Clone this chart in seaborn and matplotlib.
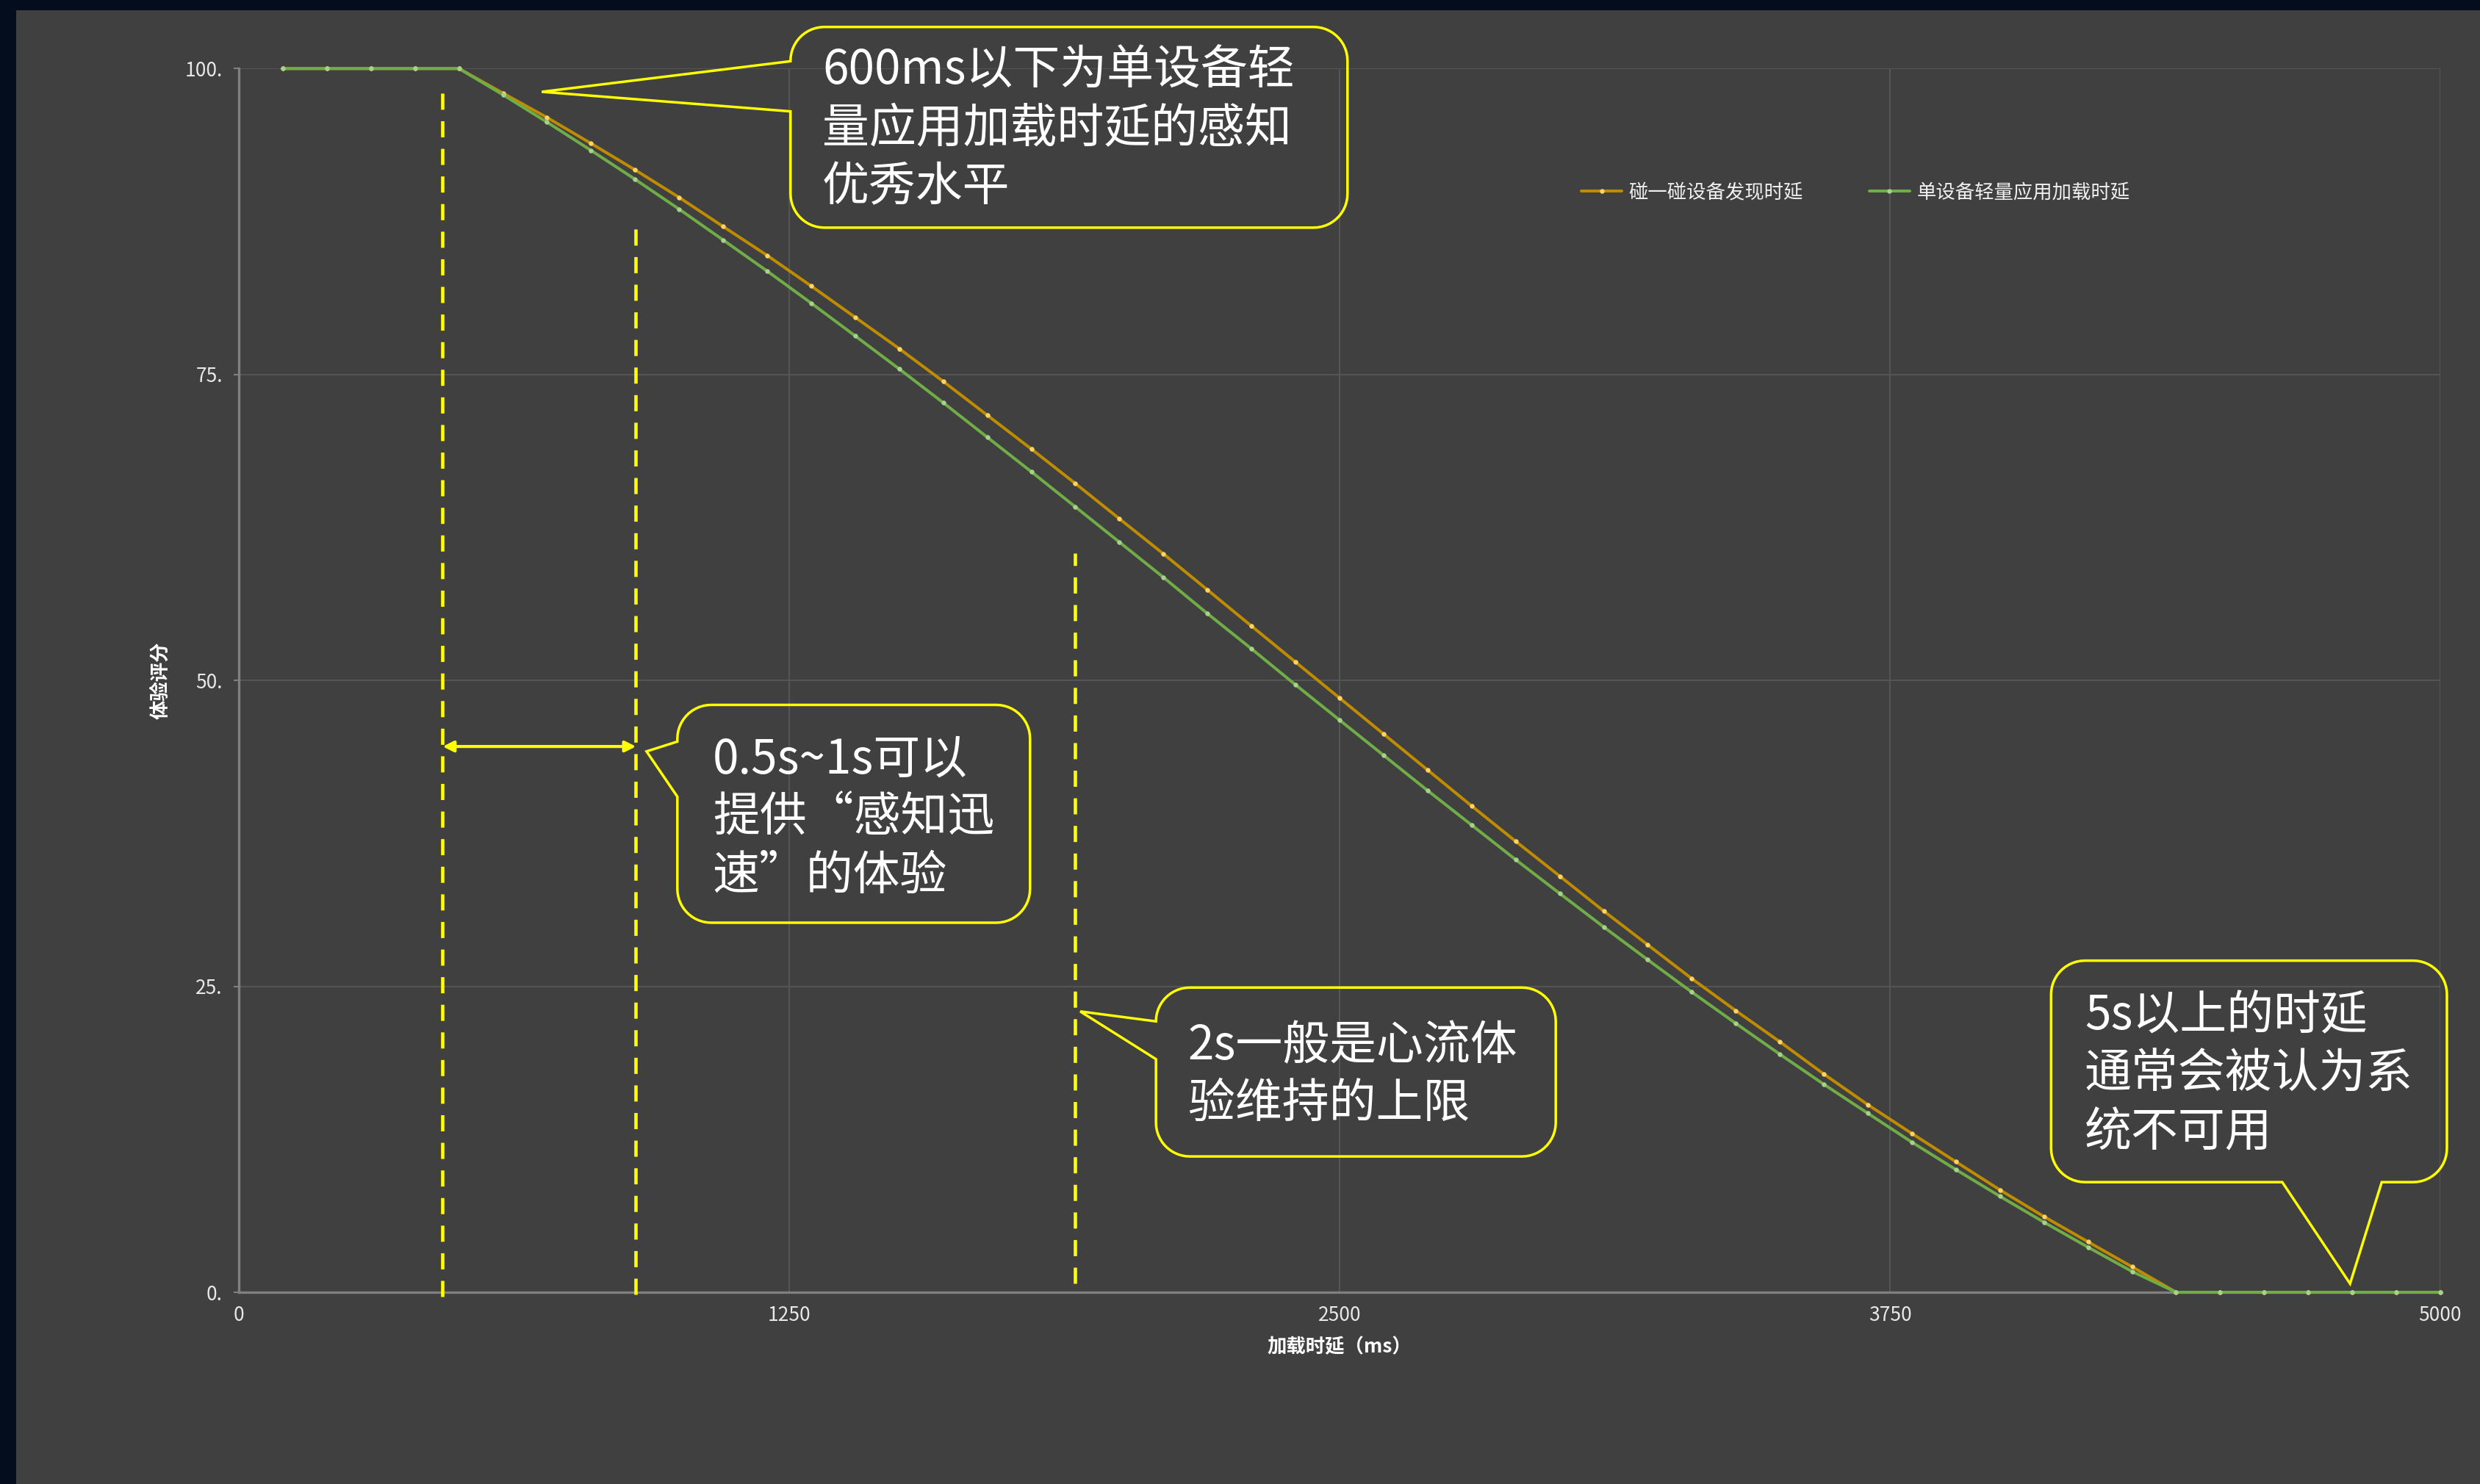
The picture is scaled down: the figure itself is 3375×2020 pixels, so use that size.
import matplotlib
matplotlib.use("Agg")
import matplotlib.pyplot as plt
import numpy as np
import pandas as pd
import seaborn as sns
from matplotlib.patches import Polygon, Rectangle

# ---- data (score vs. load latency, one point every 100 ms)
LATENCY_MS = [
    100, 200, 300, 400, 500, 600, 700, 800, 900, 1000,
    1100, 1200, 1300, 1400, 1500, 1600, 1700, 1800, 1900, 2000,
    2100, 2200, 2300, 2400, 2500, 2600, 2700, 2800, 2900, 3000,
    3100, 3200, 3300, 3400, 3500, 3600, 3700, 3800, 3900, 4000,
    4100, 4200, 4300, 4400, 4500, 4600, 4700, 4800, 4900, 5000,
]
TOUCH_DISCOVERY = [
    100, 100, 100, 100, 100, 97.99, 96.0, 93.88, 91.72, 89.47,
    87.09, 84.73, 82.23, 79.67, 77.11, 74.43, 71.67, 68.91, 66.09, 63.21,
    60.34, 57.40, 54.44, 51.50, 48.56, 45.62, 42.68, 39.74, 36.85, 34.01,
    31.15, 28.39, 25.63, 23.01, 20.47, 17.83, 15.32, 12.97, 10.66, 8.36,
    6.18, 4.12, 2.08, 0, 0, 0, 0, 0, 0, 0,
]
APP_LOADING = [
    100, 100, 100, 100, 100, 97.86, 95.62, 93.31, 90.95, 88.51,
    85.99, 83.45, 80.83, 78.15, 75.45, 72.69, 69.87, 67.05, 64.18, 61.30,
    58.42, 55.46, 52.58, 49.64, 46.76, 43.88, 41.00, 38.18, 35.35, 32.59,
    29.85, 27.17, 24.53, 21.97, 19.45, 16.99, 14.62, 12.26, 10.02, 7.84,
    5.72, 3.68, 1.70, 0, 0, 0, 0, 0, 0, 0,
]
SERIES_NAMES = ["碰一碰设备发现时延", "单设备轻量应用加载时延"]

X_TICKS = [0, 1250, 2500, 3750, 5000]
Y_TICKS = [0, 25, 50, 75, 100]
X_LABEL = "加载时延（ms）"
Y_LABEL = "体验评分"

# dashed guide lines (ms) and their vertical extent (score)
GUIDE_X = [463, 902, 1900]
GUIDE_TOP = [98.6, 87.8, 60.4]
GUIDE_BOTTOM = [-0.35, -0.2, 0.7]
SPAN_Y = 44.6

CALLOUTS = [
    dict(text="600ms以下为单设备轻\n量应用加载时延的感知\n优秀水平",
         box=(1253, 2518, 87.0, 103.4), side="left", base=(96.5, 100.6),
         tip=(688, 98.1), at=(1325, 95.05)),
    dict(text="0.5s~1s可以\n提供“感知迅\n速”的体验",
         box=(996, 1797, 30.2, 48.0), side="left", base=(40.5, 45.0),
         tip=(926, 44.2), at=(1076, 38.75)),
    dict(text="2s一般是心流体\n验维持的上限",
         box=(2083, 2991, 11.1, 24.9), side="left", base=(19.05, 22.6),
         tip=(1911, 22.95), at=(2156, 17.75)),
    dict(text="5s以上的时延\n通常会被认为系\n统不可用",
         box=(4116, 5015, 9.0, 27.1), side="bottom", base=(4641, 4867),
         tip=(4795, 0.7), at=(4192, 17.8)),
]

LINE_COLORS = ["#bf8c00", "#70ad47"]
DOT_COLORS = ["#ffd466", "#a9d18e"]
YELLOW = "#ffff00"
PANEL = "#404040"
NAVY = "#030d1d"
GRID = "#555555"
SPINE = "#808080"

sns.set_style("dark", {"axes.facecolor": PANEL, "figure.facecolor": NAVY})
plt.rcParams["font.family"] = ["Noto Sans CJK SC", "DejaVu Sans"]


def draw_callout(ax, spec, radius_px=46):
    """Rounded speech bubble with a pointed tail, drawn as one outline."""
    x0, x1, y0, y1 = spec["box"]
    o = ax.transData.transform((0, 0))
    sx = ax.transData.transform((1, 0))[0] - o[0]
    sy = ax.transData.transform((0, 1))[1] - o[1]
    rx, ry = radius_px / sx, radius_px / sy

    def arc(cx, cy, a0, a1, n=14):
        t = np.radians(np.linspace(a0, a1, n))
        return list(zip(cx + rx * np.cos(t), cy + ry * np.sin(t)))

    a, b = spec["base"]
    pts = [(x0 + rx, y0)]
    if spec["side"] == "bottom":
        pts += [(a, y0), spec["tip"], (b, y0)]
    pts += [(x1 - rx, y0)]
    pts += arc(x1 - rx, y0 + ry, -90, 0)
    pts += arc(x1 - rx, y1 - ry, 0, 90)
    pts += arc(x0 + rx, y1 - ry, 90, 180)
    if spec["side"] == "left":
        pts += [(x0, min(b, y1 - ry)), spec["tip"], (x0, max(a, y0 + ry))]
    pts += arc(x0 + rx, y0 + ry, 180, 270)

    ax.add_patch(Polygon(pts, closed=True, fill=False, edgecolor=YELLOW,
                         lw=2.5, joinstyle="miter", clip_on=False, zorder=6))
    ax.text(*spec["at"], spec["text"], ha="left", va="center", fontsize=46,
            color="white", linespacing=1.245, clip_on=False, zorder=7)


fig = plt.figure(figsize=(33.75, 20.2), dpi=100)
fig.add_artist(Rectangle((22 / 3375, 0), 1, 1 - 14 / 2020,
                         transform=fig.transFigure, facecolor=PANEL,
                         edgecolor="none", zorder=-10))
ax = fig.add_axes([0.0963, 0.1292, 0.8877, 0.8246])

df = pd.DataFrame({
    "latency": LATENCY_MS * 2,
    "score": TOUCH_DISCOVERY + APP_LOADING,
    "series": [SERIES_NAMES[0]] * len(LATENCY_MS) + [SERIES_NAMES[1]] * len(LATENCY_MS),
})

for name, line_c, dot_c in zip(SERIES_NAMES, LINE_COLORS, DOT_COLORS):
    sub = df[df["series"] == name]
    sns.lineplot(data=sub, x="latency", y="score", ax=ax, color=line_c,
                 lw=2.9, marker="o", markersize=4.6, markeredgewidth=0,
                 label=name, clip_on=False, zorder=3)
    ax.lines[-1].set_markerfacecolor(dot_c)

ax.set_xlim(0, 5000)
ax.set_ylim(0, 100)
ax.set_xticks(X_TICKS)
ax.set_yticks(Y_TICKS)
ax.set_xticklabels([str(v) for v in X_TICKS])
ax.set_yticklabels([f"{v}." for v in Y_TICKS])
ax.tick_params(axis="x", length=0, pad=13, labelsize=19, labelcolor="#e8e8e8")
ax.tick_params(axis="y", length=5, width=1.5, color=SPINE, pad=11,
               labelsize=19, labelcolor="#e8e8e8", left=True)
ax.grid(True, color=GRID, lw=1.5)
ax.set_axisbelow(True)
for side in ("top", "right"):
    ax.spines[side].set_visible(False)
for side in ("left", "bottom"):
    ax.spines[side].set_color(SPINE)
    ax.spines[side].set_linewidth(2.4)

ax.set_xlabel(X_LABEL, fontsize=19, fontweight="bold", color="white")
ax.set_ylabel(Y_LABEL, fontsize=19, fontweight="bold", color="white")
ax.xaxis.set_label_coords(0.5, -0.037)
ax.yaxis.set_label_coords(-0.031, 0.5)

leg = ax.legend(loc="center left", bbox_to_anchor=(2152 / 3375, 1 - 262 / 2020),
                bbox_transform=fig.transFigure, frameon=False, ncol=2,
                fontsize=19, handlelength=2.1, handletextpad=0.35,
                columnspacing=3.4, borderpad=0, borderaxespad=0, numpoints=1)
for t in leg.get_texts():
    t.set_color("#f0f0f0")

# annotation layer
ax.vlines(GUIDE_X, GUIDE_BOTTOM, GUIDE_TOP, colors=YELLOW, lw=3.3,
          linestyles=(0, (4.8, 3.4)), clip_on=False, zorder=5)
ax.annotate("", xy=(GUIDE_X[0], SPAN_Y), xytext=(GUIDE_X[1], SPAN_Y),
            arrowprops=dict(arrowstyle="<|-|>", color=YELLOW, lw=3,
                            mutation_scale=22, shrinkA=0, shrinkB=0),
            zorder=5)
for spec in CALLOUTS:
    draw_callout(ax, spec)

fig.savefig("out.png", dpi=100, facecolor=fig.get_facecolor())
